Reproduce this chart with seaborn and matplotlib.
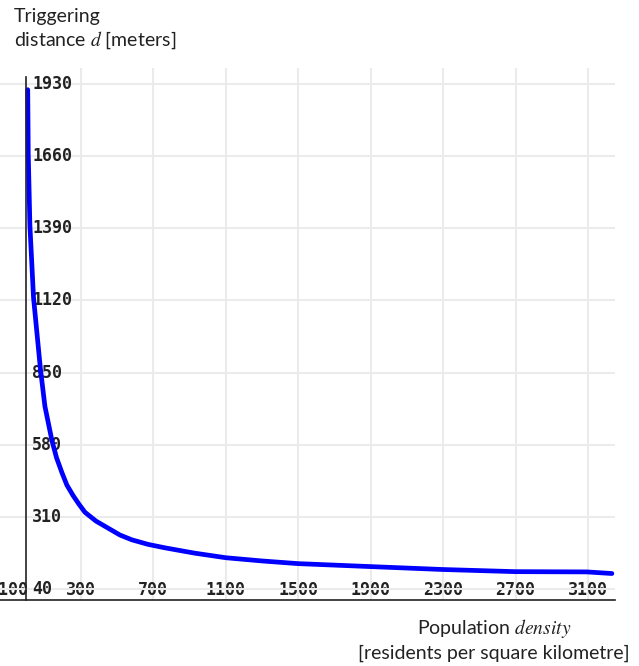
import matplotlib
matplotlib.use("Agg")
import matplotlib.pyplot as plt
import numpy as np
import pandas as pd
import seaborn as sns

# values
density = [7, 10, 19, 39, 77, 102, 141, 166, 196, 223, 257, 290, 323, 384,
           450, 516, 582, 671, 765, 930, 1101, 1300, 1499, 1896, 2299, 2697,
           3094, 3232]
distance = [1908, 1667, 1401, 1131, 865, 724, 595, 532, 476, 430, 391, 358,
            328, 295, 269, 243, 225, 208, 195, 175, 158, 146, 136, 125, 114,
            106, 105, 99]

x_ticks = [-100, 300, 700, 1100, 1500, 1900, 2300, 2700, 3100]
y_ticks = [40, 310, 580, 850, 1120, 1390, 1660, 1930]

df = pd.DataFrame({"density": density, "distance": distance})

sns.set_style("white")
plt.rcParams["font.family"] = ["Lato", "DejaVu Sans"]
plt.rcParams["mathtext.fontset"] = "stix"

fig = plt.figure(figsize=(6.39, 6.66), dpi=100)
ax = fig.add_axes([0, 66 / 666, 615 / 639, (600 - 68) / 666])

sns.lineplot(data=df, x="density", y="distance", ax=ax, color="#0000ff",
             linewidth=3.4, sort=False, estimator=None)

ax.set_xlim(-146, 3249)
ax.set_ylim(0, 1989)
ax.set_xticks(x_ticks)
ax.set_yticks(y_ticks)
ax.set_xlabel("")
ax.set_ylabel("")

ax.grid(True, color="#ebebeb", linewidth=1.5)
ax.set_axisbelow(True)

for s in ["top", "right"]:
    ax.spines[s].set_visible(False)
ax.spines["left"].set_position(("data", 0))
ax.spines["left"].set_bounds(0, 1955)
ax.spines["left"].set_color("#222222")
ax.spines["bottom"].set_color("#222222")
ax.spines["left"].set_linewidth(1.2)
ax.spines["bottom"].set_linewidth(1.2)

tick_font = dict(family="DejaVu Sans Mono", weight="bold", size=12)
ax.tick_params(axis="both", direction="inout", length=8, width=1.0, colors="#222222")
ax.tick_params(axis="y", pad=-8)
ax.tick_params(axis="x", pad=-5)
ax.set_yticklabels([str(v) for v in y_ticks], ha="left", va="center", **tick_font)
ax.set_xticklabels([str(v) for v in x_ticks], va="bottom", **tick_font)

# first vertical gridline / tick is not drawn in the original
ax.get_xgridlines()[0].set_visible(False)
ax.xaxis.get_major_ticks()[0].tick1line.set_visible(False)

fig.text(14 / 639, 1 - 8 / 666, "Triggering\ndistance $d$ [meters]",
         ha="left", va="top", fontsize=14, color="#222222", linespacing=1.3)
fig.text(494 / 639, 1 - 617 / 666, "Population $density$\n[residents per square kilometre]",
         ha="center", va="top", fontsize=14, color="#222222", linespacing=1.3,
         multialignment="center")

fig.savefig("out.png", dpi=100)
